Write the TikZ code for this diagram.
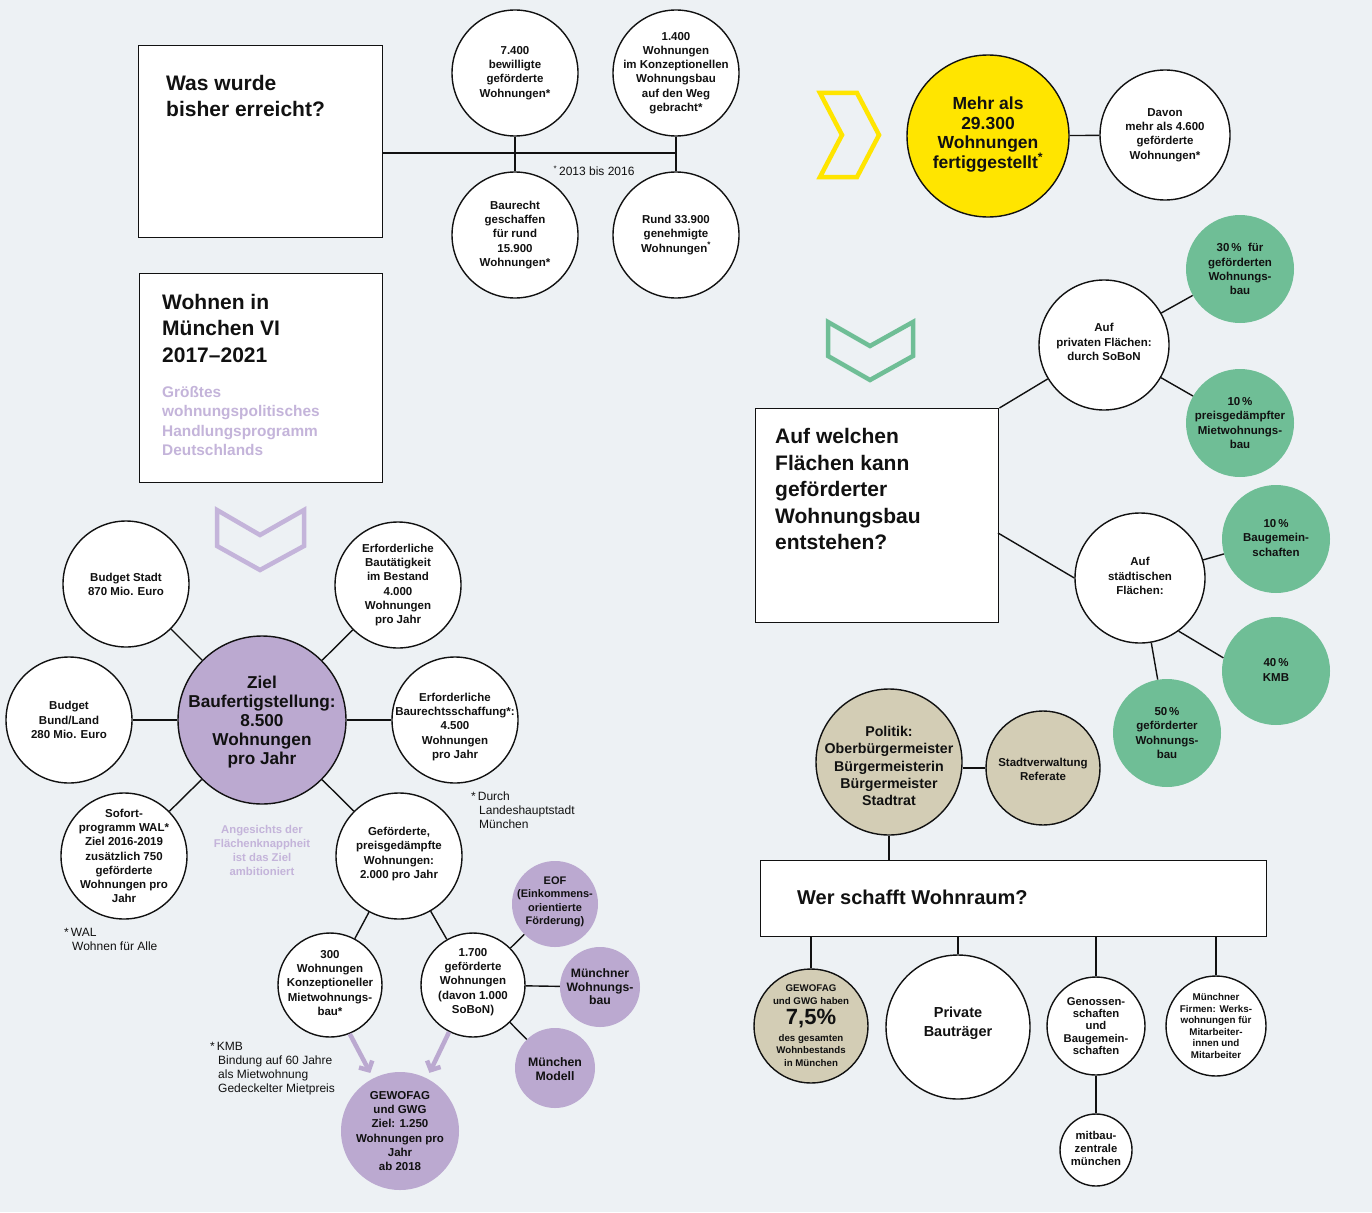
\documentclass[tikz,border=0pt]{standalone}
\usepackage{fontspec}
\setmainfont{Liberation Sans}
\usetikzlibrary{arrows.meta}
\definecolor{ink}{HTML}{111111}
\definecolor{purp}{HTML}{BBA9D0}
\definecolor{purplt}{HTML}{C4B4DA}
\definecolor{grn}{HTML}{6FBE96}
\definecolor{beige}{HTML}{D3CDB5}
\definecolor{yel}{HTML}{FFE500}
\definecolor{bg}{HTML}{EDF1F4}
\begin{document}
\begin{tikzpicture}[x=1pt,y=-1pt,
  ln/.style={draw=ink, line width=1.4pt},
  circ/.style={circle, draw=ink, line width=1.4pt, inner sep=0pt, minimum size=2*#1},
  wc/.style={circ=#1, fill=white},
  pc/.style={circle, fill=purp, inner sep=0pt, minimum size=2*#1},
  gc/.style={circle, fill=grn, inner sep=0pt, minimum size=2*#1},
  bc/.style={circ=#1, fill=beige},
  box/.style={rectangle, draw=ink, fill=white, line width=1.4pt, inner sep=0pt, anchor=north west},
  tx/.style={align=center, inner sep=0pt, text=ink, font=\bfseries\fontsize{11.5}{14.2}\selectfont},
  fs/.style 2 args={font=\bfseries\fontsize{#1}{#2}\selectfont},
  ttl/.style={align=left, anchor=west, inner sep=0pt, text=ink, font=\bfseries\fontsize{21}{26.5}\selectfont},
  fn/.style={align=left, anchor=west, inner sep=0pt, text=ink, font=\fontsize{12}{14}\selectfont},
  chev/.style={line width=4.5pt, line join=miter},
  parrow/.style={draw=purp, line width=4.5pt, -{Straight Barb[length=7pt,width=15pt]}, shorten >=6pt},
]
\fill[bg] (0,0) rectangle (1372,1212);
\useasboundingbox (0,0) rectangle (1372,1212);

% ---------- top: Was wurde bisher erreicht ----------
\node[box, minimum width=244, minimum height=192] (b1) at (138,45) {};
\node[ttl] at (166,96) {Was wurde\\bisher erreicht?};
\node[wc=63] (c1) at (515,73) {};
\node[wc=63] (c2) at (676,73) {};
\node[wc=63] (c3) at (515,235) {};
\node[wc=63] (c4) at (676,235) {};
\coordinate (hL) at (382,153);
\draw[ln] (hL) -- (hL -| c2);
\draw[ln] (c1) -- (c3);
\draw[ln] (c2) -- (c4);
\node[tx] at (c1) {7.400\\bewilligte\\geförderte\\Wohnungen*};
\node[tx] at (c2) {1.400\\Wohnungen\\im Konzeptionellen\\Wohnungsbau\\auf den Weg\\gebracht*};
\node[tx] at (c3) {Baurecht\\geschaffen\\für rund\\15.900\\Wohnungen*};
\node[tx] at (c4) {Rund 33.900\\genehmigte\\Wohnungen\textsuperscript{*}};
\node[fn, anchor=center] at (594,171) {\textsuperscript{*}\,2013 bis 2016};

% ---------- yellow ----------
\draw[chev, draw=yel] (820,93) -- (857,93) -- (879,135) -- (857,177) -- (820,177) -- (842,135) -- cycle;
\node[circ=81, fill=yel] (yc) at (988,136) {};
\node[wc=65] (dv) at (1165,135) {};
\draw[ln] (yc) -- (dv);
\node[tx, fs={17.5}{19.5}] at (988,134.5) {Mehr als\\29.300\\Wohnungen\\fertiggestellt\textsuperscript{*}};
\node[tx] at (dv) {Davon\\mehr als 4.600\\geförderte\\Wohnungen*};

% ---------- green section ----------
\draw[chev, draw=grn] (828,322) -- (870,346) -- (913,322) -- (913,356) -- (870,380) -- (828,356) -- cycle;
\node[box, minimum width=243, minimum height=214] (b3) at (755,408) {};
\node[ttl] at (775,489) {Auf welchen\\Flächen kann\\geförderter\\Wohnungsbau\\entstehen?};
\node[wc=65] (priv) at (1104,345) {};
\node[gc=54] (g30) at (1240,269) {};
\node[gc=54] (g10p) at (1240,423) {};
\node[wc=65] (stadt) at (1140,578) {};
\node[gc=54] (g10b) at (1276,539) {};
\node[gc=54] (kmb) at (1276,671) {};
\node[gc=54] (g50) at (1167,733) {};
\coordinate (b3r) at (998,533);
\draw[ln] (b3.north east) -- (priv);
\draw[ln] (b3r) -- (stadt.west);
\draw[ln] (priv) -- (g30);
\draw[ln] (priv) -- (g10p);
\draw[ln] (stadt) -- (g10b);
\draw[ln] (stadt.-54) -- (kmb.166);
\draw[ln] (stadt) -- (g50);
\node[tx] at (1104,342) {Auf\\privaten Flächen:\\durch SoBoN};
\node[tx] at (g30) {30\,\%~ für\\geförderten\\Wohnungs-\\bau};
\node[tx] at (g10p) {10\,\%\\preisgedämpfter\\Mietwohnungs-\\bau};
\node[tx] at (1140,576) {Auf\\städtischen\\Flächen:};
\node[tx] at (1276,538) {10\,\%\\Baugemein-\\schaften};
\node[tx] at (1276,670) {40\,\%\\KMB};
\node[tx] at (g50) {50\,\%\\geförderter\\Wohnungs-\\bau};

% ---------- Wohnen in München VI ----------
\node[box, minimum width=243, minimum height=209] (b2) at (139,273) {};
\node[ttl] at (162,328) {Wohnen in\\München VI\\2017–2021};
\node[ttl, text=purplt, fs={15.4}{19.5}] at (162,421) {Größtes\\wohnungspolitisches\\Handlungsprogramm\\Deutschlands};
\draw[chev, draw=purplt] (217,510) -- (260,535) -- (304,510) -- (304,546) -- (260,570) -- (217,546) -- cycle;

\node[circ=84, fill=purp] (ziel) at (262,720) {};
\node[wc=63] (bs) at (126,584) {};
\node[wc=63] (bb) at (69,720) {};
\node[wc=63] (sp) at (124,856) {};
\node[wc=63] (eb) at (398,585) {};
\node[wc=63] (er) at (455,720) {};
\node[wc=63] (gp) at (399,856) {};
\foreach \n in {bs,bb,sp,eb,er,gp} \draw[ln] (ziel) -- (\n);
\node[tx, fs={17.2}{19.2}] at (262,722) {Ziel\\Baufertigstellung:\\8.500\\Wohnungen\\pro Jahr};
\node[tx] at (bs) {Budget Stadt\\870 Mio. Euro};
\node[tx] at (bb) {Budget\\Bund/Land\\280 Mio. Euro};
\node[tx] at (sp) {Sofort-\\programm WAL*\\Ziel 2016-2019\\zusätzlich 750\\geförderte\\Wohnungen pro\\Jahr};
\node[tx] at (eb) {Erforderliche\\Bautätigkeit\\im Bestand\\4.000\\Wohnungen\\pro Jahr};
\node[tx] at (455,727) {Erforderliche\\Baurechtsschaffung*:\\4.500\\Wohnungen\\pro Jahr};
\node[tx] at (399,854) {Geförderte,\\preisgedämpfte\\Wohnungen:\\2.000 pro Jahr};
\node[tx, text=purplt, fs={11.3}{14}] at (262,850) {Angesichts der\\Flächenknappheit\\ist das Ziel\\ambitioniert};
\node[fn] at (64,939) {*\,WAL\\\hspace*{8pt}Wohnen für Alle};
\node[fn] at (471,810) {*\,Durch\\\hspace*{8pt}Landeshauptstadt\\\hspace*{8pt}München};

% lower purple part
\node[wc=52] (k300) at (330,985) {};
\node[wc=52] (k1700) at (473,985) {};
\node[pc=43] (eof) at (555,904) {};
\node[pc=40] (mwb) at (600,987) {};
\node[pc=40] (mm) at (555,1068) {};
\node[pc=59] (gew) at (400,1131) {};
\draw[ln] (gp) -- (k300);
\draw[ln] (gp) -- (k1700);
\draw[ln] (k1700) -- (eof);
\draw[ln] (k1700) -- (mwb);
\draw[ln] (k1700) -- (mm);
\draw[parrow] (k300.-68) -- (gew.117);
\draw[parrow] (k1700.-117) -- (gew.63);
\node[tx] at (330,983) {300\\Wohnungen\\Konzeptioneller\\Mietwohnungs-\\bau*};
\node[tx] at (473,982) {1.700\\geförderte\\Wohnungen\\(davon 1.000\\SoBoN)};
\node[tx, fs={11}{13.5}] at (555,902) {EOF\\(Einkommens-\\orientierte\\Förderung)};
\node[tx, fs={12.2}{13.5}] at (mwb) {Münchner\\Wohnungs-\\bau};
\node[tx, fs={12.3}{13.3}] at (555,1069) {München\\Modell};
\node[tx] at (gew) {GEWOFAG\\und GWG\\Ziel: 1.250\\Wohnungen pro\\Jahr\\ab 2018};
\node[fn] at (210,1069) {*\,KMB\\\hspace*{8pt}Bindung auf 60 Jahre\\\hspace*{8pt}als Mietwohnung\\\hspace*{8pt}Gedeckelter Mietpreis};

% ---------- Wer schafft Wohnraum ----------
\node[bc=73] (pol) at (889,762) {};
\node[bc=57] (sv) at (1043,768) {};
\draw[ln] (sv) -- (sv -| pol.east);
\node[box, minimum width=506, minimum height=76] (b4) at (760,860) {};
\draw[ln] (pol) -- (pol |- b4.north);
\node[ttl, fs={20}{24}] at (797,897) {Wer schafft Wohnraum?};
\node[tx, fs={14.2}{17.4}] at (889,766) {Politik:\\Oberbürgermeister\\Bürgermeisterin\\Bürgermeister\\Stadtrat};
\node[tx] at (1043,769) {Stadtverwaltung\\Referate};

\node[bc=57] (gw) at (811,1026) {};
\node[wc=72] (pb) at (958,1027) {};
\node[wc=49] (gen) at (1096,1026) {};
\node[wc=50] (mf) at (1216,1026) {};
\node[wc=36] (mz) at (1096,1150) {};
\foreach \n in {gw,pb,gen,mf} \draw[ln] (b4.south -| \n) -- (\n);
\draw[ln] (gen) -- (mz);
\node[tx, fs={9.7}{12.5}] at (811,1025.5) {GEWOFAG\\und GWG haben\\[4pt]{\fontsize{22}{22}\selectfont 7,5\%}\\[4pt]des gesamten\\Wohnbestands\\in München};
\node[tx, fs={14.5}{19}] at (958,1023) {Private\\Bauträger};
\node[tx, fs={11.3}{12.4}] at (gen) {Genossen-\\schaften\\und\\Baugemein-\\schaften};
\node[tx, fs={9.8}{11.6}] at (mf) {Münchner\\Firmen: Werks-\\wohnungen für\\Mitarbeiter-\\innen und\\Mitarbeiter};
\node[tx, fs={11.3}{13}] at (1096,1148) {mitbau-\\zentrale\\münchen};
\end{tikzpicture}
\end{document}
